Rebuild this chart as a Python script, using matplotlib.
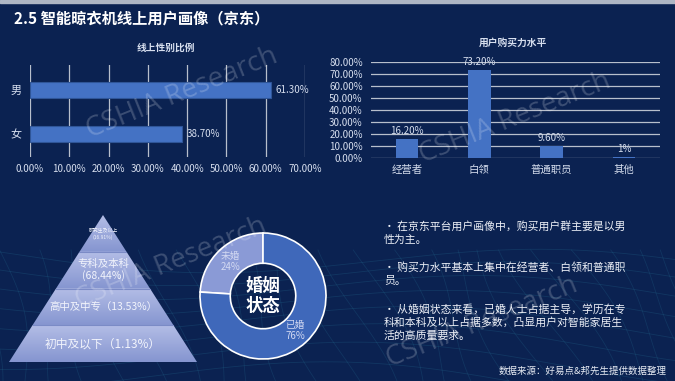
import numpy as np
import matplotlib
matplotlib.use("Agg")
import matplotlib.pyplot as plt
from matplotlib.patches import Polygon, Rectangle
from matplotlib.colors import to_rgb

plt.rcParams['font.family'] = ['Noto Sans CJK SC', 'DejaVu Sans']

# ---------------- data ----------------
title = "2.5 智能晾衣机线上用户画像（京东）"

gender_title = "线上性别比例"
gender_cats = ["女", "男"]
gender_vals = [0.387, 0.613]
gender_labels = ["38.70%", "61.30%"]
gender_ticks = [0, 0.1, 0.2, 0.3, 0.4, 0.5, 0.6, 0.7]

power_title = "用户购买力水平"
power_cats = ["经营者", "白领", "普通职员", "其他"]
power_vals = [0.162, 0.732, 0.096, 0.01]
power_labels = ["16.20%", "73.20%", "9.60%", "1%"]
power_ticks = [0, 0.1, 0.2, 0.3, 0.4, 0.5, 0.6, 0.7, 0.8]

edu_labels = ["初中及以下（1.13%）", "高中及中专（13.53%）", "专科及本科\n(68.44%)", "研究生及以上\n(16.91%)"]
edu_sizes = [8.5, 7.5, 7.5, 3.5]

marital_cats = ["未婚", "已婚"]
marital_vals = [24, 76]
marital_center = "婚姻\n状态"

bullets = [
    ["· 在京东平台用户画像中，购买用户群主要是以男", "性为主。"],
    ["· 购买力水平基本上集中在经营者、白领和普通职", "员。"],
    ["· 从婚姻状态来看，已婚人士占据主导，学历在专", "科和本科及以上占据多数，凸显用户对智能家居生", "活的高质量要求。"],
]
source = "数据来源：好易点&邦先生提供数据整理"
watermark = "CSHIA Research"

# ---------------- style ----------------
W, H = 675, 381
BG = "#0b2251"
BAR = "#4472c4"
LIGHT = "#d6deee"
GRID = "#b8bfcc"

fig = plt.figure(figsize=(W / 100, H / 100), dpi=100, facecolor=BG)


def px_axes(l, t, r, b, z=1):
    ax = fig.add_axes([l / W, 1 - b / H, (r - l) / W, (b - t) / H], zorder=z)
    ax.set_facecolor("none")
    return ax


# background mesh decoration
mesh = px_axes(0, 0, W, H, z=0)
mesh.set_xlim(0, W)
mesh.set_ylim(H, 0)
mesh.axis("off")
xs = np.linspace(0, W, 300)
for k in range(10):
    base = 262 + k * 13 + k * k * 0.6
    ys = base + 18 * np.sin(xs / 120 + k * 0.25) - 10 * np.cos(xs / 260)
    mesh.plot(xs, ys, color="#2a7fa0", lw=0.6, alpha=0.22)
for j in range(-6, 26):
    x0 = j * 30
    yy = np.linspace(250, H, 60)
    xx = x0 + (yy - 250) * (0.2 + 0.02 * j) + 12 * np.sin(yy / 40 + j)
    mesh.plot(xx, yy, color="#2a7fa0", lw=0.6, alpha=0.2)
mesh.add_patch(Rectangle((0, 0), W, 3, color="#aeb6c4", zorder=5))

# title
fig.text(14 / W, 1 - 18 / H, title, color="white", fontsize=11, fontweight="bold",
         va="center", ha="left")

# ---------------- gender bar chart ----------------
ax1 = px_axes(30, 65, 305, 157)
ypos = np.arange(len(gender_cats))
ax1.barh(ypos, gender_vals, height=0.36, color=BAR, edgecolor="#2f5597", lw=0.8, zorder=3)
ax1.set_xlim(0, 0.7)
ax1.set_ylim(-0.52, 1.57)
ax1.set_xticks(gender_ticks)
ax1.set_xticklabels([f"{t*100:.2f}%" for t in gender_ticks], color=LIGHT, fontsize=7)
ax1.set_yticks(ypos)
ax1.set_yticklabels(gender_cats, color=LIGHT, fontsize=8)
ax1.tick_params(length=0, pad=6)
ax1.tick_params(axis="x", pad=5)
ax1.xaxis.grid(True, color=GRID, lw=0.9)
ax1.set_axisbelow(True)
for s in ax1.spines.values():
    s.set_visible(False)
for y, v, lab in zip(ypos, gender_vals, gender_labels):
    ax1.text(v + 0.012, y, lab, color=LIGHT, fontsize=7, va="center", ha="left")
fig.text(166 / W, 1 - 48 / H, gender_title, color=LIGHT, fontsize=7, fontweight="bold",
         ha="center", va="center")

# ---------------- purchase power bar chart ----------------
ax2 = px_axes(371, 62, 660, 158)
xpos = np.arange(len(power_cats))
ax2.bar(xpos, power_vals, width=0.31, color=BAR, zorder=3)
ax2.set_xlim(-0.5, 3.5)
ax2.set_ylim(0, 0.8)
ax2.set_yticks(power_ticks)
ax2.set_yticklabels([f"{t*100:.2f}%" for t in power_ticks], color=LIGHT, fontsize=7)
ax2.set_xticks(xpos)
ax2.set_xticklabels(power_cats, color=LIGHT, fontsize=7.5)
ax2.tick_params(length=0)
ax2.tick_params(axis="y", pad=6)
ax2.tick_params(axis="x", pad=5)
ax2.yaxis.grid(True, color=GRID, lw=0.9)
ax2.set_axisbelow(True)
for s in ax2.spines.values():
    s.set_visible(False)
for x, v, lab in zip(xpos, power_vals, power_labels):
    ax2.text(x, v + 0.025, lab, color=LIGHT, fontsize=7, ha="center", va="bottom")
fig.text(513 / W, 1 - 43 / H, power_title, color=LIGHT, fontsize=7, fontweight="bold",
         ha="center", va="center")

# ---------------- education pyramid ----------------
ax3 = px_axes(9, 215, 197, 362)
n = len(edu_labels)
ax3.set_xlim(-0.5, 0.5)
ax3.set_ylim(0, n)
ax3.axis("off")
c_top = np.array(to_rgb("#b3bde6"))
c_bot = np.array(to_rgb("#8595d0"))
rows = 400
frac = np.linspace(0, n, rows)  # bottom->top
within = frac - np.floor(np.minimum(frac, n - 1e-9))
img = (c_bot[None, :] * (1 - within[:, None]) + c_top[None, :] * within[:, None])
img = np.repeat(img[:, None, :], 2, axis=1)
tri = Polygon([(-0.5, 0), (0.5, 0), (0, n)], closed=True, facecolor="none", edgecolor="none")
ax3.add_patch(tri)
im = ax3.imshow(img, extent=(-0.5, 0.5, 0, n), origin="lower", aspect="auto", interpolation="bilinear")
im.set_clip_path(tri)
for i in range(1, n):
    half = 0.5 * (n - i) / n
    ax3.plot([-half, half], [i, i], color="#7b8bc6", lw=0.8)
for i, (lab, fs) in enumerate(zip(edu_labels, edu_sizes)):
    yc = i + 0.5 if i < n - 1 else i + 0.48
    ax3.text(0, yc, lab, color="#f2f4fc", fontsize=fs, ha="center", va="center",
             linespacing=1.1)

# ---------------- marital donut ----------------
R_PX = 63
cx, cy = 263, 296
half_px = 70
ax4 = px_axes(cx - half_px, cy - half_px, cx + half_px, cy + half_px)
lim = half_px / R_PX
ax4.set_aspect("equal")
ax4.axis("off")
wedges, _ = ax4.pie(marital_vals, colors=["#8a9ad6", "#3f68ba"], startangle=90, counterclock=True,
                    radius=1, wedgeprops=dict(width=0.48, edgecolor="white", linewidth=1.2))
ax4.set_xlim(-lim, lim)
ax4.set_ylim(-lim, lim)
for w, cat, v in zip(wedges, marital_cats, marital_vals):
    ang = np.deg2rad((w.theta1 + w.theta2) / 2)
    r = 0.75
    ax4.text(r * np.cos(ang), r * np.sin(ang), f"{cat}\n{v}%", color="#d3d9f2", fontsize=7,
             ha="center", va="center", linespacing=1.05)
ax4.text(0, 0, marital_center, color="white", fontsize=12.5, fontweight="bold",
         ha="center", va="center", linespacing=1.15)

# ---------------- text block ----------------
y = 226
for para in bullets:
    for line in para:
        fig.text(384 / W, 1 - y / H, line, color="#eef1f8", fontsize=7.8, ha="left", va="center")
        y += 13.5
    y += 14.5
fig.text(667 / W, 1 - 371 / H, source, color="#e8ecf4", fontsize=6.8, ha="right", va="center")

# ---------------- watermarks ----------------
for (wx, wy) in [(182, 93), (515, 118), (171, 263), (482, 322)]:
    fig.text(wx / W, 1 - wy / H, watermark, color="white", alpha=0.2, fontsize=20,
             rotation=22, ha="center", va="center", family="Open Sans", zorder=10)

fig.savefig("out.png", dpi=100, facecolor=BG)
